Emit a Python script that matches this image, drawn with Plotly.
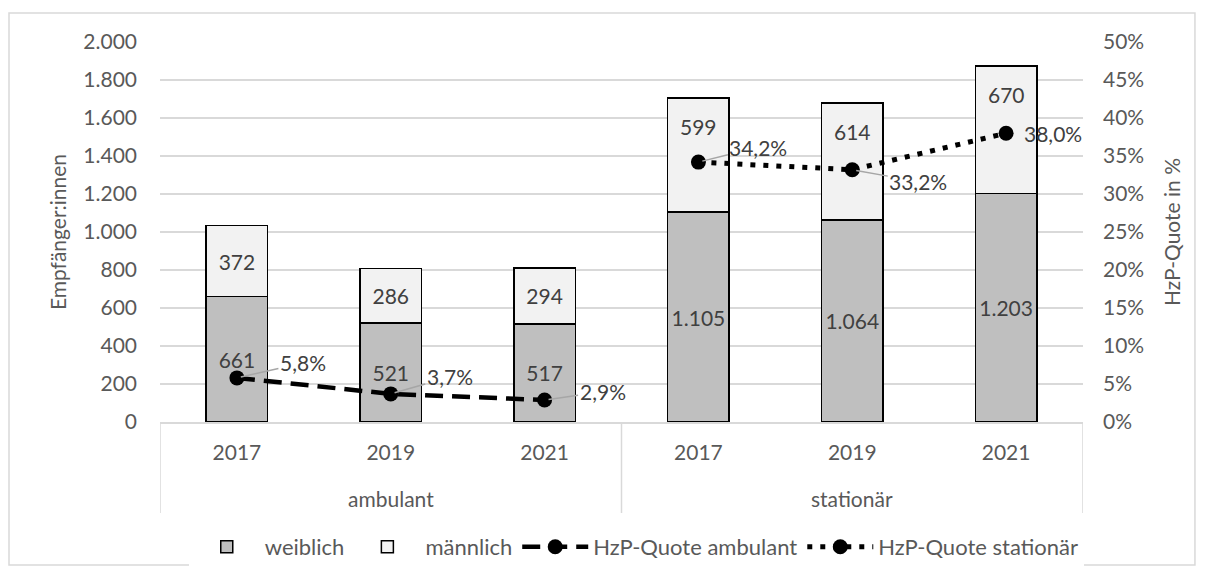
import plotly.graph_objects as go

# Daten
gruppen = ['ambulant'] * 3 + ['stationär'] * 3
jahre = ['2017', '2019', '2021', '2017', '2019', '2021']
weiblich = [661, 521, 517, 1105, 1064, 1203]
maennlich = [372, 286, 294, 599, 614, 670]
quote_ambulant = [0.058, 0.037, 0.029]
quote_stationaer = [0.342, 0.332, 0.380]

FONT = 'Lato'
TXT = '#595959'
LBL = '#404040'
GRID = '#d9d9d9'


def de_zahl(v):
    return f'{v:,}'.replace(',', '.')


idx = list(range(len(jahre)))
idx_amb = [i for i, g in enumerate(gruppen) if g == 'ambulant']
idx_sta = [i for i, g in enumerate(gruppen) if g == 'stationär']

fig = go.Figure()

fig.add_trace(go.Bar(
    x=idx, y=weiblich, name='weiblich', width=0.4, legendgroup='w',
    marker=dict(color='#bfbfbf', line=dict(color='black', width=1.5)),
    text=[de_zahl(v) for v in weiblich],
    textposition='inside', insidetextanchor='middle', constraintext='none',
    textfont=dict(color=LBL, size=21, family=FONT),
))
# männlich: ambulant Beschriftung mittig, stationär per Annotation nach oben verschoben
fig.add_trace(go.Bar(
    x=idx, y=maennlich, name='männlich', width=0.4, legendgroup='m',
    marker=dict(color='#f2f2f2', line=dict(color='black', width=1.5)),
    text=[str(v) if g == 'ambulant' else '' for v, g in zip(maennlich, gruppen)],
    textposition='inside', insidetextanchor='middle', constraintext='none',
    textfont=dict(color=LBL, size=21, family=FONT),
))
for i in idx_sta:
    fig.add_annotation(
        x=i, y=weiblich[i] + maennlich[i], xref='x', yref='y',
        text=str(maennlich[i]), showarrow=False, yanchor='middle', yshift=-28,
        font=dict(color=LBL, size=21, family=FONT),
    )

fig.add_trace(go.Scatter(
    x=idx_amb, y=quote_ambulant, name='HzP-Quote ambulant', yaxis='y2', legendgroup='a',
    mode='lines+markers',
    line=dict(color='black', width=4.5, dash='18px,9px'),
    marker=dict(color='black', size=15),
))
fig.add_trace(go.Scatter(
    x=idx_sta, y=quote_stationaer, name='HzP-Quote stationär', yaxis='y2', legendgroup='s',
    mode='lines+markers',
    line=dict(color='black', width=5, dash='5px,8px'),
    marker=dict(color='black', size=15),
))

# Beschriftungen der Quoten mit Führungslinien
offsets = [(66, -15), (59, -17), (58, -8), (60, -15), (66, 12), None]
quoten = quote_ambulant + quote_stationaer
for i, (q, off) in enumerate(zip(quoten, offsets)):
    if off is None:
        fig.add_annotation(
            x=i, y=q, xref='x', yref='y2', text=f'{q * 100:.1f}%'.replace('.', ','),
            showarrow=False, xshift=47,
            font=dict(color=LBL, size=21, family=FONT),
        )
    else:
        fig.add_annotation(
            x=i, y=q, xref='x', yref='y2', text=f'{q * 100:.1f}%'.replace('.', ','),
            showarrow=True, arrowhead=0, arrowwidth=1.5, arrowcolor='#a6a6a6',
            ax=off[0], ay=off[1], standoff=4,
            font=dict(color=LBL, size=21, family=FONT),
        )

# Gruppenbeschriftung und Trennlinien der x-Achse
grenzen = [-0.5]
for name in dict.fromkeys(gruppen):
    pos = [i for i, g in enumerate(gruppen) if g == name]
    grenzen.append(max(pos) + 0.5)
    fig.add_annotation(
        x=sum(pos) / len(pos), y=-0.2, xref='x', yref='paper', text=name,
        showarrow=False, yanchor='middle',
        font=dict(color=TXT, size=21, family=FONT),
    )
for gx in grenzen:
    fig.add_shape(type='line', xref='x', yref='paper', x0=gx, x1=gx, y0=0, y1=-0.2395,
                  line=dict(color=GRID, width=1.5))

# Rahmen um das Diagramm
fig.add_shape(type='rect', xref='paper', yref='paper',
              x0=-0.1636, x1=1.1213, y0=-0.376, y1=1.076,
              line=dict(color=GRID, width=1.5), layer='below')

fig.update_layout(
    width=1205, height=578,
    margin=dict(l=152, r=130, t=34, b=164),
    plot_bgcolor='white', paper_bgcolor='white',
    barmode='stack',
    font=dict(family=FONT, size=21, color=TXT),
    showlegend=True,
    legend=dict(orientation='h', x=0.516, xanchor='center', y=-0.329, yanchor='middle',
                font=dict(size=22, color=TXT), traceorder='grouped', itemwidth=66,
                tracegroupgap=34),
    xaxis=dict(
        range=[-0.5, 5.5], tickvals=idx, ticktext=jahre, showgrid=False,
        showline=True, linecolor=GRID, linewidth=1.5, ticks='', zeroline=False,
        tickfont=dict(size=21, color=TXT), ticklabelstandoff=11,
    ),
    yaxis=dict(
        range=[0, 2000], dtick=200, tickformat=',d', showgrid=True, gridcolor=GRID,
        gridwidth=1.5, zeroline=False, ticks='', ticklabelstandoff=22,
        title=dict(text='Empfänger:innen', font=dict(size=21, color=TXT), standoff=10),
        tickfont=dict(size=21, color=TXT),
    ),
    yaxis2=dict(
        range=[0, 0.5], dtick=0.05, tickformat='.0%', overlaying='y', side='right',
        showgrid=False, zeroline=False, ticks='', ticklabelstandoff=19,
        title=dict(text='HzP-Quote in %', font=dict(size=21, color=TXT), standoff=22),
        tickfont=dict(size=21, color=TXT),
    ),
    separators=',.',
)

fig.write_html('out.html')
